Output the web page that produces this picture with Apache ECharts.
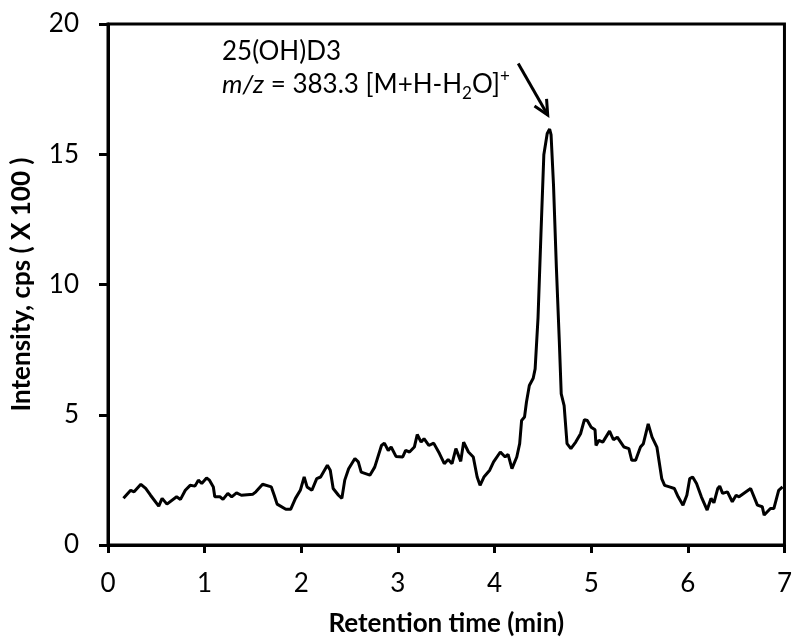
<!DOCTYPE html>
<html>
<head>
<meta charset="utf-8">
<script src="https://cdn.jsdelivr.net/npm/echarts@6/dist/echarts.min.js"></script>
<style>
  html, body { margin: 0; padding: 0; background: #fff; }
  #main { width: 795px; height: 643px; }
</style>
</head>
<body>
<div id="main"></div>
<script>
// 保留时间 (min)
const times = [0.16, 0.235, 0.27, 0.34, 0.39, 0.44, 0.525, 0.56, 0.61, 0.71, 0.75, 0.80, 0.85, 0.90, 0.935, 0.97,
  1.02, 1.05, 1.09, 1.105, 1.16, 1.19, 1.24, 1.28, 1.33, 1.38, 1.50, 1.53, 1.60, 1.69, 1.72, 1.75, 1.84, 1.89, 1.94, 1.99,
  2.03, 2.06, 2.11, 2.16, 2.20, 2.27, 2.30, 2.33, 2.385, 2.42, 2.45, 2.49, 2.555, 2.59, 2.62, 2.71, 2.76, 2.83, 2.86, 2.90, 2.93, 2.98,
  3.05, 3.08, 3.12, 3.17, 3.20, 3.24, 3.27, 3.32, 3.37, 3.43, 3.48, 3.52, 3.56, 3.60, 3.65, 3.68, 3.73, 3.78, 3.82, 3.85, 3.89, 3.95, 3.99,
  4.06, 4.11, 4.14, 4.18, 4.23, 4.26, 4.28, 4.31, 4.33, 4.36, 4.40, 4.42, 4.45, 4.48, 4.51, 4.545, 4.57, 4.585, 4.61, 4.64, 4.67, 4.69,
  4.72, 4.75, 4.79, 4.84, 4.89, 4.93, 4.96, 5.00, 5.04, 5.05, 5.08, 5.12, 5.19, 5.23, 5.27, 5.34, 5.39, 5.42, 5.46, 5.51, 5.54, 5.59,
  5.63, 5.68, 5.73, 5.76, 5.81, 5.86, 5.90, 5.95, 5.99, 6.02, 6.05, 6.09, 6.14, 6.20, 6.24, 6.27, 6.31, 6.33, 6.36, 6.41, 6.46, 6.50,
  6.53, 6.65, 6.72, 6.77, 6.79, 6.855, 6.89, 6.94, 6.98]
// 强度 (cps x 100)
const intensity = [1.79, 2.10, 2.04, 2.33, 2.17, 1.91, 1.49, 1.79, 1.57, 1.85, 1.75, 2.10, 2.29, 2.26, 2.49, 2.36,
  2.57, 2.49, 2.23, 1.85, 1.85, 1.75, 1.98, 1.85, 2.00, 1.91, 1.95, 2.04, 2.33, 2.23, 1.91, 1.57, 1.37, 1.37, 1.79, 2.10,
  2.61, 2.23, 2.10, 2.55, 2.61, 3.06, 2.87, 2.17, 1.91, 1.79, 2.49, 2.93, 3.32, 3.19, 2.80, 2.68, 2.99, 3.82, 3.91, 3.63, 3.76, 3.40,
  3.38, 3.63, 3.57, 3.76, 4.24, 3.95, 4.08, 3.82, 3.91, 3.51, 3.12, 3.28, 3.12, 3.70, 3.21, 3.95, 3.57, 3.38, 2.61, 2.29, 2.61, 2.87, 3.19,
  3.57, 3.38, 3.48, 2.93, 3.38, 3.89, 4.78, 4.91, 5.48, 6.12, 6.40, 6.76, 8.73, 11.92, 14.98, 15.80, 15.97, 15.74, 13.83, 10.64, 7.84, 5.80,
  5.35, 3.89, 3.70, 3.95, 4.27, 4.81, 4.78, 4.52, 4.42, 3.82, 4.02, 3.95, 4.37, 4.04, 4.14, 3.76, 3.70, 3.25, 3.25, 3.76, 3.89, 4.65,
  4.14, 3.76, 2.55, 2.29, 2.23, 2.17, 1.85, 1.53, 1.91, 2.55, 2.61, 2.36, 1.85, 1.34, 1.79, 1.62, 2.17, 2.26, 1.98, 2.04, 1.66, 1.91,
  1.85, 2.17, 1.53, 1.47, 1.15, 1.40, 1.40, 2.10, 2.23]
// 箭头起点/终点 (数据坐标)
const arrowFrom = [4.245, 18.48]
const arrowTo = [4.55, 16.51]

const font = 'Lato, "Open Sans", sans-serif'
const chart = echarts.init(document.getElementById('main'))

chart.setOption({
  animation: false,
  grid: {
    left: 108, right: 4, top: 24, bottom: 98,
    show: true, borderColor: '#000', borderWidth: 3
  },
  xAxis: {
    type: 'value', min: 0, max: 7, interval: 1,
    name: 'Retention time (min)', nameLocation: 'middle', nameGap: 66,
    nameTextStyle: { fontFamily: font, fontSize: 26, fontWeight: 'bold', color: '#000' },
    axisLine: { lineStyle: { color: '#000', width: 3 } },
    axisTick: { length: 8, lineStyle: { color: '#000', width: 3 } },
    axisLabel: { margin: 26, fontFamily: font, fontSize: 26, color: '#000' },
    splitLine: { show: false }
  },
  yAxis: {
    type: 'value', min: 0, max: 20, interval: 5,
    name: 'Intensity, cps ( X 100 )', nameLocation: 'middle', nameGap: 73,
    nameTextStyle: { fontFamily: font, fontSize: 26, fontWeight: 'bold', color: '#000' },
    axisLine: { lineStyle: { color: '#000', width: 3 } },
    axisTick: { length: 9, lineStyle: { color: '#000', width: 3 } },
    axisLabel: { margin: 29, fontFamily: font, fontSize: 26, color: '#000' },
    splitLine: { show: false }
  },
  series: [{
    type: 'line',
    data: times.map((t, i) => [t, intensity[i]]),
    showSymbol: false,
    lineStyle: { color: '#000', width: 3 }
  }]
})

// 注释文字和箭头
const p0 = chart.convertToPixel('grid', arrowFrom)
const p1 = chart.convertToPixel('grid', arrowTo)
const ang = Math.atan2(p1[1] - p0[1], p1[0] - p0[0])
const head = 16
const wing = (a) => [p1[0] - head * Math.cos(ang + a), p1[1] - head * Math.sin(ang + a)]

chart.setOption({
  graphic: [{
    type: 'text', left: 222, top: 39,
    style: { text: '25(OH)D3', fontFamily: font, fontSize: 26, fill: '#000' }
  }, {
    type: 'text', left: 222, top: 68,
    style: {
      text: '{i|m/z} = 383.3 [M+H-H{sub|2}O]{sup|+}',
      fontFamily: font, fontSize: 26, fill: '#000', lineHeight: 34,
      rich: {
        i: { fontStyle: 'italic', fontFamily: font, fontSize: 26, lineHeight: 34 },
        sub: { fontSize: 17, fontFamily: font, verticalAlign: 'bottom', lineHeight: 22, padding: [10, 0, 0, 0] },
        sup: { fontSize: 17, fontFamily: font, verticalAlign: 'top', lineHeight: 22, padding: [0, 0, 8, 0] }
      }
    }
  }, {
    type: 'line',
    shape: { x1: p0[0], y1: p0[1], x2: p1[0], y2: p1[1] },
    style: { stroke: '#000', lineWidth: 3 }
  }, {
    type: 'polyline',
    shape: { points: [wing(0.45), p1, wing(-0.45)] },
    style: { stroke: '#000', lineWidth: 3, fill: null }
  }]
})
</script>
</body>
</html>
